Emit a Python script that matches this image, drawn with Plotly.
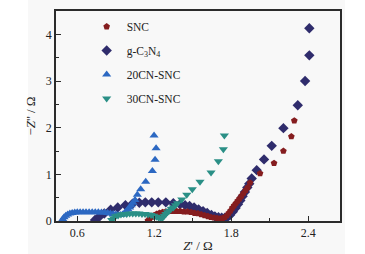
import plotly.graph_objects as go

# ---------------- data ----------------
snc_x = [1.150, 1.165, 1.180, 1.198, 1.218, 1.240, 1.265, 1.290, 1.318, 1.346, 1.374, 1.402,
         1.430, 1.458, 1.486, 1.514, 1.540, 1.566, 1.592, 1.618, 1.642, 1.666, 1.690, 1.712,
         1.732, 1.750, 1.766, 1.780, 1.794, 1.808, 1.822, 1.836, 1.850, 1.864, 1.880, 1.896,
         1.912, 1.928, 1.946, 2.024, 2.133, 2.206, 2.268, 2.291]
snc_y = [0.01, 0.05, 0.09, 0.12, 0.15, 0.17, 0.19, 0.20, 0.21, 0.21, 0.21, 0.21,
         0.20, 0.20, 0.19, 0.17, 0.16, 0.14, 0.12, 0.10, 0.08, 0.07, 0.06, 0.05,
         0.06, 0.08, 0.12, 0.17, 0.22, 0.28, 0.33, 0.38, 0.43, 0.48, 0.54, 0.60,
         0.66, 0.72, 0.82, 1.02, 1.24, 1.50, 1.81, 2.15]

gcn_x = [0.738, 0.771, 0.810, 0.860, 0.915, 0.975, 1.030, 1.083, 1.130, 1.180, 1.231, 1.290,
         1.348, 1.400, 1.440, 1.475, 1.510, 1.545, 1.580, 1.612, 1.645, 1.672, 1.700, 1.725,
         1.750, 1.772, 1.790, 1.812, 1.833, 1.852, 1.870, 1.888, 1.906, 1.925, 1.940, 1.959,
         1.998, 2.055, 2.115, 2.206, 2.318, 2.375, 2.408, 2.408]
gcn_y = [0.02, 0.09, 0.16, 0.24, 0.29, 0.34, 0.37, 0.39, 0.40, 0.40, 0.40, 0.40,
         0.38, 0.36, 0.34, 0.32, 0.29, 0.25, 0.21, 0.17, 0.13, 0.10, 0.08, 0.07,
         0.07, 0.09, 0.13, 0.20, 0.28, 0.36, 0.44, 0.53, 0.62, 0.72, 0.80, 0.91,
         1.09, 1.32, 1.61, 1.99, 2.48, 3.00, 3.55, 4.13]

cn20_x = [0.480, 0.487, 0.497, 0.510, 0.525, 0.542, 0.560, 0.580, 0.600, 0.622, 0.645, 0.668,
          0.692, 0.716, 0.740, 0.764, 0.788, 0.812, 0.836, 0.858, 0.880, 0.900, 0.918, 0.935,
          0.952, 0.968, 0.982, 0.995, 1.008, 1.020, 1.034, 1.050, 1.068, 1.094, 1.133, 1.185,
          1.206, 1.214, 1.198]
cn20_y = [0.00, 0.04, 0.08, 0.11, 0.14, 0.16, 0.17, 0.18, 0.19, 0.19, 0.19, 0.19,
          0.19, 0.19, 0.19, 0.19, 0.18, 0.18, 0.17, 0.16, 0.15, 0.14, 0.13, 0.13,
          0.14, 0.17, 0.21, 0.25, 0.29, 0.34, 0.39, 0.45, 0.56, 0.68, 0.84, 1.07,
          1.31, 1.56, 1.83]

cn30_x = [0.868, 0.882, 0.898, 0.918, 0.940, 0.962, 0.985, 1.008, 1.032, 1.056, 1.080, 1.104,
          1.128, 1.152, 1.175, 1.196, 1.216, 1.234, 1.250, 1.265, 1.278, 1.290, 1.303, 1.317,
          1.332, 1.349, 1.365, 1.380, 1.414, 1.453, 1.496, 1.556, 1.642, 1.699, 1.738, 1.746]
cn30_y = [0.02, 0.06, 0.10, 0.12, 0.14, 0.15, 0.15, 0.16, 0.16, 0.16, 0.16, 0.15,
          0.15, 0.14, 0.13, 0.11, 0.09, 0.07, 0.06, 0.07, 0.11, 0.15, 0.19, 0.22,
          0.26, 0.29, 0.34, 0.38, 0.46, 0.56, 0.68, 0.84, 1.04, 1.28, 1.54, 1.83]

x_ticks = [0.6, 1.2, 1.8, 2.4]
x_tick_labels = ["0.6", "1.2", "1.8", "2.4"]
y_ticks = [0, 1, 2, 3, 4]
y_tick_labels = ["0", "1", "2", "3", "4"]

# (name, x, y, symbol, colour, size, legend rank) -- listed in drawing order
series = [
    ("g-C<sub>3</sub>N<sub>4</sub>", gcn_x, gcn_y, "diamond", "#2f2c6c", 8, 2),
    ("SNC", snc_x, snc_y, "pentagon", "#851d1f", 7, 1),
    ("20CN-SNC", cn20_x, cn20_y, "triangle-up", "#2c68c2", 8, 3),
    ("30CN-SNC", cn30_x, cn30_y, "triangle-down", "#2a8f86", 8, 4),
]

FONT = "Liberation Serif, Times New Roman, serif"

fig = go.Figure()
for i, (name, xs, ys, sym, col, sz, rank) in enumerate(series):
    fig.add_trace(go.Scatter(
        x=xs, y=ys, mode="markers", name=name, legendgroup=f"g{i}", legendrank=rank,
        marker=dict(symbol=sym, color=col, size=sz, line=dict(width=0)),
    ))

axis_common = dict(
    showline=True, linecolor="#2b2b2b", linewidth=1.5, mirror=True,
    ticks="inside", ticklen=5, tickwidth=1.2, tickcolor="#2b2b2b",
    showgrid=False, zeroline=False, automargin=False,
    tickfont=dict(family=FONT, size=12, color="#222"),
)

fig.update_layout(
    template="none",
    width=365, height=254,
    margin=dict(l=56, r=25, t=11, b=33, pad=0),
    paper_bgcolor="white",
    plot_bgcolor="rgba(0,0,0,0)",
    font=dict(family=FONT, size=12, color="#222"),
    showlegend=True,
    legend=dict(
        x=0.108, y=0.995, xanchor="left", yanchor="top",
        bgcolor="rgba(0,0,0,0)", borderwidth=0,
        font=dict(family=FONT, size=11.5, color="#222"),
        tracegroupgap=5, itemwidth=30,
    ),
    xaxis=dict(
        range=[0.434, 2.647], tickvals=x_ticks, ticktext=x_tick_labels,
        minor=dict(ticks="inside", dtick=0.3, tick0=0.3, ticklen=3, tickcolor="#2b2b2b"),
        title=dict(text="<i>Z</i>' / Ω", font=dict(family=FONT, size=13), standoff=2),
        **axis_common,
    ),
    yaxis=dict(
        range=[0, 4.5], tickvals=y_ticks, ticktext=y_tick_labels,
        minor=dict(ticks="inside", dtick=0.5, tick0=0, ticklen=3, tickcolor="#2b2b2b"),
        title=dict(text="\u2212<i>Z</i>'' / Ω", font=dict(family=FONT, size=13), standoff=7),
        **axis_common,
    ),
    shapes=[dict(
        type="rect", xref="paper", yref="paper", layer="below",
        x0=-0.0986, x1=1.0176, y0=-0.16, y1=1.06,
        fillcolor="#f8f8f8", line=dict(width=0),
    )],
)

fig.write_html(
    "out.html",
    config={"displayModeBar": False},
    post_script="document.body.style.margin='0px';document.body.style.padding='0px';",
)
